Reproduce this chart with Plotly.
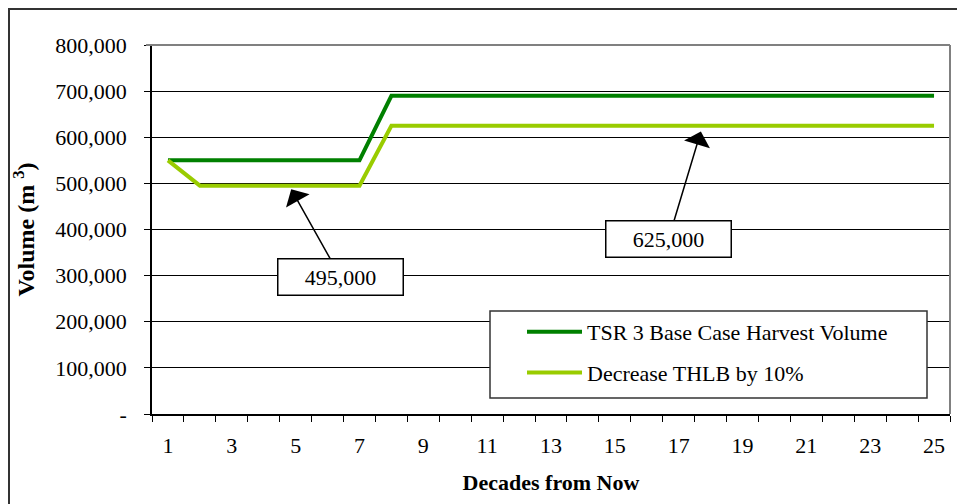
import plotly.graph_objects as go

# ---- data ----
decades = list(range(1, 26))
base_case = [550000] * 7 + [690000] * 18
decrease_thlb = [550000] + [495000] * 6 + [625000] * 18
series_names = ["TSR 3 Base Case Harvest Volume", "Decrease THLB by 10%"]
series_colors = ["#008000", "#99CC00"]
x_tick_vals = list(range(1, 26, 2))
x_tick_text = [str(v) for v in x_tick_vals]
y_tick_vals = [0, 100000, 200000, 300000, 400000, 500000, 600000, 700000, 800000]
y_tick_text = ["-", "100,000", "200,000", "300,000", "400,000", "500,000", "600,000", "700,000", "800,000"]

FONT = "Liberation Serif, Times New Roman, serif"
OFF = 8  # page body margin
W, H = 965 - OFF, 504 - OFF
# plot area edges in page pixels
L, R, T, B = 152, 950, 45, 414
L, R, T, B = L - OFF, R - OFF, T - OFF, B - OFF


def px_x(p):
    return (p - OFF - L) / (R - L)


def px_y(p):
    return (B - (p - OFF)) / (B - T)


fig = go.Figure()
for vals, name, col in zip([base_case, decrease_thlb], series_names, series_colors):
    fig.add_trace(go.Scatter(x=decades, y=vals, mode="lines", name=name,
                             line=dict(color=col, width=4), legendgroup=name))

low_val = min(decrease_thlb)
high_val = max(decrease_thlb)

fig.update_layout(
    width=W, height=H,
    margin=dict(l=L, r=W - R, t=T, b=H - B, autoexpand=False),
    paper_bgcolor="white", plot_bgcolor="white",
    font=dict(family=FONT, size=22, color="black"),
    showlegend=True,
    legend=dict(x=px_x(522), y=px_y(311), xanchor="left", yanchor="top",
                bgcolor="rgba(0,0,0,0)", borderwidth=0,
                font=dict(family=FONT, size=22, color="black"),
                tracegroupgap=9, itemwidth=55),
    xaxis=dict(range=[0.5, 25.5], tickmode="array", tickvals=x_tick_vals, ticktext=x_tick_text,
               ticks="outside", ticklen=6, tickcolor="rgba(0,0,0,0)", ticklabelstandoff=5,
               showgrid=False, zeroline=False, showline=True, linecolor="black", linewidth=1.5,
               minor=dict(tickmode="array", tickvals=[i + 0.5 for i in range(0, 26)],
                          ticks="outside", ticklen=6, tickcolor="black", tickwidth=1, showgrid=False),
               tickfont=dict(size=22),
               title=dict(text="<b>Decades from Now</b>", font=dict(size=22), standoff=17)),
    yaxis=dict(range=[0, 800000], tickmode="array", tickvals=y_tick_vals, ticktext=y_tick_text,
               ticks="outside", ticklen=6, tickcolor="black", tickwidth=1, ticklabelstandoff=13,
               showgrid=True, gridcolor="black", gridwidth=1, zeroline=False,
               showline=True, linecolor="black", linewidth=1.5,
               tickfont=dict(size=22),
               title=dict(text="<b>Volume (m <sup>3</sup>)</b>", font=dict(size=24), standoff=14)),
)

shapes = [
    # plot area top and right border (gray)
    dict(type="line", xref="paper", yref="paper", x0=px_x(146), x1=1, y0=1, y1=1,
         line=dict(color="#808080", width=2), layer="above"),
    dict(type="line", xref="paper", yref="paper", x0=1, x1=1, y0=0, y1=1,
         line=dict(color="#808080", width=2), layer="above"),
    # legend box
    dict(type="rect", xref="paper", yref="paper", x0=px_x(490), x1=px_x(927),
         y0=px_y(398), y1=px_y(311), fillcolor="white",
         line=dict(color="#333333", width=1.5), layer="above"),
    # chart outer border
    dict(type="rect", xref="paper", yref="paper", x0=px_x(OFF + 1), x1=px_x(990),
         y0=px_y(530), y1=px_y(OFF + 1), fillcolor="rgba(0,0,0,0)",
         line=dict(color="#333333", width=2), layer="above"),
]
fig.update_layout(shapes=shapes)

fig.add_annotation(x=4.8, y=low_val, xref="x", yref="y", text=f"{low_val:,}",
                   showarrow=True, arrowhead=1, arrowsize=3, arrowwidth=1.5, arrowcolor="black",
                   ax=51, ay=91, axref="pixel", ayref="pixel", standoff=4,
                   bgcolor="white", bordercolor="black", borderwidth=1.5,
                   width=122, height=33, font=dict(size=22))
fig.add_annotation(x=17.75, y=high_val, xref="x", yref="y", text=f"{high_val:,}",
                   showarrow=True, arrowhead=1, arrowsize=3, arrowwidth=1.5, arrowcolor="black",
                   ax=-34, ay=113, axref="pixel", ayref="pixel", standoff=6,
                   bgcolor="white", bordercolor="black", borderwidth=1.5,
                   width=122, height=33, font=dict(size=22))

fig.write_html("out.html")
